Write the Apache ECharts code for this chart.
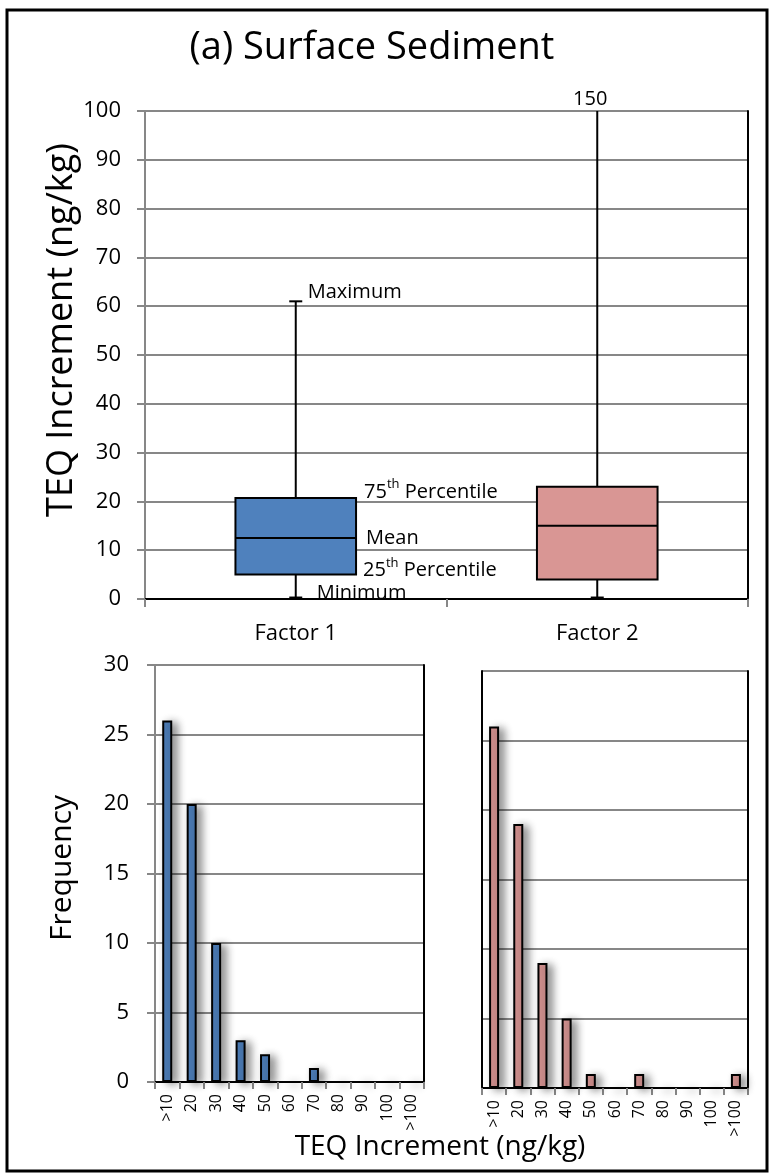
<!DOCTYPE html>
<html><head><meta charset="utf-8">
<script src="https://cdn.jsdelivr.net/npm/echarts@6/dist/echarts.min.js"></script>
<style>html,body{margin:0;padding:0;background:#fff}#c{width:771px;height:1176px}</style>
</head><body><div id="c"></div>
<script>
// ---- data ----
const boxCategories = ['Factor 1', 'Factor 2'];
const boxMin = [0.3, 0.3];
const boxQ1 = [5, 4];
const boxMean = [12.5, 15];
const boxQ3 = [20.7, 23];
const boxMax = [61, 150];
const boxYMax = 100;
const histCategories = ['>10', '20', '30', '40', '50', '60', '70', '80', '90', '100', '>100'];
const factor1Freq = [26, 20, 10, 3, 2, 0, 1, 0, 0, 0, 0];
const factor2Freq = [26, 19, 9, 5, 1, 0, 1, 0, 0, 0, 1];

const FONT = '"Open Sans", "Noto Sans", sans-serif';
const GRAY = '#878787';
const BLUE = '#4F81BD';
const PINK = '#D99694';
const boxColors = [BLUE, PINK];

const boxData = boxCategories.map((c, i) => [i, boxMin[i], boxQ1[i], boxMean[i], boxQ3[i], boxMax[i]]);

// annotations: which category / stat they point at, plus label styling offsets
const annotations = [
  {cat: 0, stat: 'max', text: 'Maximum', side: 'center', dx: 12, dy: -9, align: 'left'},
  {cat: 0, stat: 'q3', text: '{n|75}{s|th}{n| Percentile}', side: 'right', dx: 8, dy: -8, align: 'left'},
  {cat: 0, stat: 'mean', text: 'Mean', side: 'right', dx: 10, dy: 0, align: 'left'},
  {cat: 0, stat: 'q1', text: '{n|25}{s|th}{n| Percentile}', side: 'right', dx: 7, dy: -6, align: 'left'},
  {cat: 0, stat: 'min', text: 'Minimum', side: 'center', dx: 21, dy: -4, align: 'left'},
  {cat: 1, stat: 'maxLabel', text: String(boxMax[1]), side: 'center', dx: -7, dy: -12, align: 'center'}
];
const statIdx = {min: 1, q1: 2, mean: 3, q3: 4, max: 5};

function renderBox(params, api) {
  const i = api.value(0);
  const cx = api.coord([i, 0])[0];
  const w = api.size([1, 0])[0] * 0.4;
  const y = k => api.coord([i, api.value(k)])[1];
  const yMin = y(1), yQ1 = y(2), yMean = y(3), yQ3 = y(4), yMax = y(5);
  const ls = {stroke: '#000', lineWidth: 2};
  const cap = 6.5;
  return {type: 'group', children: [
    {type: 'line', shape: {x1: cx, y1: yMax, x2: cx, y2: yQ3}, style: ls},
    {type: 'line', shape: {x1: cx - cap, y1: yMax, x2: cx + cap, y2: yMax}, style: ls},
    {type: 'line', shape: {x1: cx, y1: yQ1, x2: cx, y2: yMin}, style: ls},
    {type: 'line', shape: {x1: cx - cap, y1: yMin, x2: cx + cap, y2: yMin}, style: ls},
    {type: 'rect', shape: {x: cx - w / 2, y: yQ3, width: w, height: yQ1 - yQ3},
      style: {fill: boxColors[i], stroke: '#000', lineWidth: 2}},
    {type: 'line', shape: {x1: cx - w / 2, y1: yMean, x2: cx + w / 2, y2: yMean}, style: ls}
  ]};
}

function renderAnn(params, api) {
  const a = annotations[params.dataIndex];
  const i = a.cat;
  let v;
  if (a.stat === 'maxLabel') v = Math.min(boxMax[i], boxYMax);
  else v = boxData[i][statIdx[a.stat]];
  const p = api.coord([i, v]);
  let x = p[0];
  if (a.side === 'right') x += api.size([1, 0])[0] * 0.2;
  return {type: 'text', x: x + a.dx, y: p[1] + a.dy,
    style: {text: a.text, fill: '#000', font: '20px ' + FONT, align: a.align, verticalAlign: 'middle',
      rich: {n: {fontSize: 20, fontFamily: FONT, lineHeight: 24, verticalAlign: 'bottom'},
             s: {fontSize: 13, fontFamily: FONT, lineHeight: 24, verticalAlign: 'top', padding: [0, 0, 10, 0]}}}};
}

const blackLine = {show: true, lineStyle: {color: '#000', width: 2}};
const grayLine = {show: true, lineStyle: {color: GRAY, width: 2}};
const none = {show: false};

const chart = echarts.init(document.getElementById('c'), null, {renderer: 'canvas'});
chart.setOption({
  animation: false,
  backgroundColor: '#fff',
  textStyle: {fontFamily: FONT},
  grid: [
    {left: 145, right: 23, top: 111, height: 488},
    {left: 155, width: 269, top: 665, height: 417},
    {left: 482, width: 266, top: 671, height: 417}
  ],
  xAxis: [
    {gridIndex: 0, type: 'category', data: boxCategories, axisLine: grayLine,
      axisTick: {show: true, length: 8, inside: false, lineStyle: {color: GRAY, width: 2}},
      axisLabel: {fontSize: 22, color: '#000', margin: 24, fontFamily: FONT}, splitLine: none},
    {gridIndex: 0, type: 'category', data: boxCategories, position: 'top', axisLine: blackLine,
      axisTick: none, axisLabel: none, splitLine: none},
    {gridIndex: 1, type: 'category', data: histCategories, axisLine: grayLine,
      axisTick: {show: true, length: 7, lineStyle: {color: GRAY, width: 2}},
      axisLabel: {fontSize: 16, color: '#000', rotate: 90, margin: 12, interval: 0, fontFamily: FONT}, splitLine: none},
    {gridIndex: 1, type: 'category', data: histCategories, position: 'top', axisLine: blackLine,
      axisTick: none, axisLabel: none, splitLine: none},
    {gridIndex: 2, type: 'category', data: histCategories, axisLine: grayLine,
      axisTick: {show: true, length: 7, lineStyle: {color: GRAY, width: 2}},
      axisLabel: {fontSize: 16, color: '#000', rotate: 90, margin: 12, interval: 0, fontFamily: FONT}, splitLine: none},
    {gridIndex: 2, type: 'category', data: histCategories, position: 'top', axisLine: blackLine,
      axisTick: none, axisLabel: none, splitLine: none}
  ],
  yAxis: [
    {gridIndex: 0, type: 'value', min: 0, max: boxYMax, interval: 10, axisLine: grayLine,
      axisTick: {show: true, length: 8, lineStyle: {color: GRAY, width: 2}},
      axisLabel: {fontSize: 22, color: '#000', margin: 24, fontFamily: FONT},
      splitLine: {show: true, lineStyle: {color: GRAY, width: 2}}},
    {gridIndex: 0, type: 'value', min: 0, max: boxYMax, position: 'right', axisLine: blackLine,
      axisTick: none, axisLabel: none, splitLine: none},
    {gridIndex: 1, type: 'value', min: 0, max: 30, interval: 5, axisLine: grayLine,
      axisTick: {show: true, length: 8, lineStyle: {color: GRAY, width: 2}},
      axisLabel: {fontSize: 22, color: '#000', margin: 26, fontFamily: FONT},
      splitLine: {show: true, lineStyle: {color: GRAY, width: 2}}},
    {gridIndex: 1, type: 'value', min: 0, max: 30, position: 'right', axisLine: blackLine,
      axisTick: none, axisLabel: none, splitLine: none},
    {gridIndex: 2, type: 'value', min: 0, max: 30, interval: 5, axisLine: blackLine,
      axisTick: none, axisLabel: none,
      splitLine: {show: true, lineStyle: {color: GRAY, width: 2}}},
    {gridIndex: 2, type: 'value', min: 0, max: 30, position: 'right', axisLine: blackLine,
      axisTick: none, axisLabel: none, splitLine: none}
  ],
  series: [
    {type: 'custom', xAxisIndex: 0, yAxisIndex: 0, clip: true, data: boxData,
      encode: {x: 0, y: [1, 2, 3, 4, 5]}, renderItem: renderBox, z: 5},
    {type: 'custom', xAxisIndex: 0, yAxisIndex: 0, clip: false,
      data: annotations.map((a, k) => [a.cat, k]), encode: {x: 0}, renderItem: renderAnn, z: 6},
    {type: 'bar', xAxisIndex: 2, yAxisIndex: 2, data: factor1Freq, barWidth: 10,
      itemStyle: {color: BLUE, borderColor: '#000', borderWidth: 2,
        shadowColor: 'rgba(0,0,0,0.45)', shadowBlur: 8, shadowOffsetX: 5, shadowOffsetY: 2}},
    {type: 'bar', xAxisIndex: 4, yAxisIndex: 4, data: factor2Freq, barWidth: 10,
      itemStyle: {color: PINK, borderColor: '#000', borderWidth: 2,
        shadowColor: 'rgba(0,0,0,0.45)', shadowBlur: 8, shadowOffsetX: 5, shadowOffsetY: 2}}
  ],
  graphic: [
    {type: 'rect', shape: {x: 7, y: 10, width: 760, height: 1161}, silent: true,
      style: {fill: 'none', stroke: '#000', lineWidth: 3}, z: 100},
    {type: 'text', x: 372, y: 48, style: {text: '(a) Surface Sediment', font: '38px ' + FONT,
      fill: '#000', align: 'center', verticalAlign: 'middle'}},
    {type: 'text', x: 62, y: 330, rotation: Math.PI / 2, style: {text: 'TEQ Increment (ng/kg)',
      font: '36px ' + FONT, fill: '#000', align: 'center', verticalAlign: 'middle'}},
    {type: 'text', x: 62, y: 868, rotation: Math.PI / 2, style: {text: 'Frequency',
      font: '30px ' + FONT, fill: '#000', align: 'center', verticalAlign: 'middle'}},
    {type: 'text', x: 440, y: 1147, style: {text: 'TEQ Increment (ng/kg)',
      font: '28px ' + FONT, fill: '#000', align: 'center', verticalAlign: 'middle'}}
  ]
});
</script>
</body></html>
